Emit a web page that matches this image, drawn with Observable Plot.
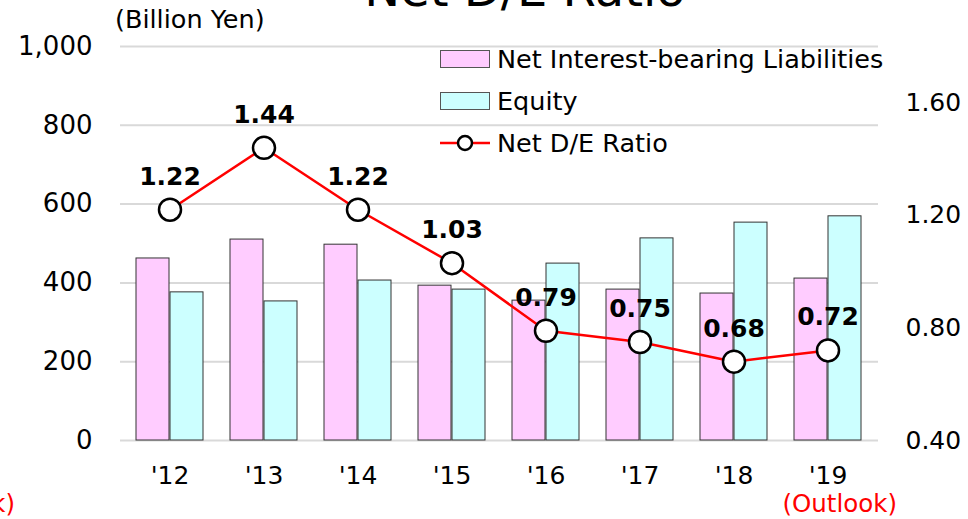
<!DOCTYPE html>
<html>
<head>
<meta charset="utf-8">
<script src="https://cdn.jsdelivr.net/npm/d3@7"></script>
<script src="https://cdn.jsdelivr.net/npm/@observablehq/plot@0.6"></script>
<style>
  html, body { margin: 0; padding: 0; background: #fff; }
  #wrap { position: relative; width: 968px; height: 519px; overflow: hidden; font-family: "DejaVu Sans", Verdana, sans-serif; }
  #chart { position: absolute; left: 0; top: 0; }
  .abs { position: absolute; white-space: nowrap; line-height: 1; }
  .leg { position: absolute; left: 440px; display: flex; align-items: center; font-size: 25.5px; color: #000; }
  .leg svg { margin-right: 7px; }
</style>
</head>
<body>
<div id="wrap">
  <div id="chart"></div>
  <div class="abs" style="left:525px; top:-35px; transform:translateX(-50%); font-size:48px;">Net D/E Ratio</div>
  <div class="abs" style="left:115px; top:7px; font-size:25.5px;">(Billion Yen)</div>
  <div class="abs" style="left:897px; top:492px; transform:translateX(-100%); font-size:24.5px; color:#ff0000;">(Outlook)</div>
  <div class="abs" style="left:15px; top:492px; transform:translateX(-100%); font-size:24.5px; color:#ff0000;">(Outlook)</div>
  <div class="leg" style="top:44px;"><svg width="50" height="18"><rect x="0.5" y="0.5" width="49" height="17" fill="#ffccff" stroke="#555"/></svg>Net Interest-bearing Liabilities</div>
  <div class="leg" style="top:86px;"><svg width="50" height="18"><rect x="0.5" y="0.5" width="49" height="17" fill="#ccffff" stroke="#555"/></svg>Equity</div>
  <div class="leg" style="top:128px;"><svg width="50" height="22"><line x1="0" x2="50" y1="11" y2="11" stroke="#ff0000" stroke-width="2.5"/><circle cx="25" cy="11" r="7" fill="#fff" stroke="#000" stroke-width="2.5"/></svg>Net D/E Ratio</div>
</div>
<script>
const years = ["'12", "'13", "'14", "'15", "'16", "'17", "'18", "'19"];
const liabilities = [462, 510, 497, 393, 355, 383, 373, 411];
const equity = [376, 353, 406, 383, 449, 513, 553, 569];
const ratio = [1.22, 1.44, 1.22, 1.03, 0.79, 0.75, 0.68, 0.72];
const ratioLabels = ["1.22", "1.44", "1.22", "1.03", "0.79", "0.75", "0.68", "0.72"];
const leftTicks = [0, 200, 400, 600, 800, 1000];
const rightTicks = [0.4, 0.8, 1.2, 1.6];

const rMin = 0.4, rMax = 1.8, yMax = 1000;
const toLeft = r => (r - rMin) / (rMax - rMin) * yMax;

const rows = years.map((y, i) => ({
  year: y, liab: liabilities[i], eq: equity[i], ratio: ratio[i], yr: toLeft(ratio[i]), label: ratioLabels[i]
}));

const fontFam = "DejaVu Sans, Verdana, sans-serif";
const plot = Plot.plot({
  width: 968,
  height: 519,
  marginLeft: 120,
  marginRight: 90,
  marginTop: 46,
  marginBottom: 79,
  style: { fontFamily: fontFam, fontSize: "25px", color: "#000", background: "transparent", overflow: "visible" },
  x: { type: "band", domain: years, paddingInner: 0.282, paddingOuter: 0.141, label: null },
  y: { domain: [0, yMax], label: null },
  marks: [
    Plot.gridY(leftTicks, { stroke: "#d9d9d9", strokeOpacity: 1, strokeWidth: 2 }),
    Plot.barY(rows, { x: "year", y: "liab", fill: "#ffccff", stroke: "#333", strokeWidth: 1, insetRight: 34 }),
    Plot.barY(rows, { x: "year", y: "eq", fill: "#ccffff", stroke: "#333", strokeWidth: 1, insetLeft: 34 }),
    Plot.ruleX([0], { frameAnchor: "left", stroke: "#888", strokeWidth: 2 }),
    Plot.axisY(leftTicks, { anchor: "left", tickSize: 0, tickPadding: 28, tickFormat: d3.format(","), fontSize: 26 }),
    Plot.axisY(rightTicks.map(toLeft), { anchor: "right", tickSize: 0, tickPadding: 27, tickFormat: v => d3.format(".2f")(v / yMax * (rMax - rMin) + rMin), fontSize: 25 }),
    Plot.axisX({ anchor: "bottom", tickSize: 0, tickPadding: 26, fontSize: 25 }),
    Plot.line(rows, { x: "year", y: "yr", stroke: "#ff0000", strokeWidth: 2.5 }),
    Plot.dot(rows, { x: "year", y: "yr", r: 11, fill: "#fff", stroke: "#000", strokeWidth: 2.5 }),
    Plot.text(rows, { x: "year", y: "yr", text: "label", dy: -33, fontWeight: "bold", fontSize: 25, fill: "#000" })
  ]
});
document.getElementById("chart").appendChild(plot);
</script>
</body>
</html>
